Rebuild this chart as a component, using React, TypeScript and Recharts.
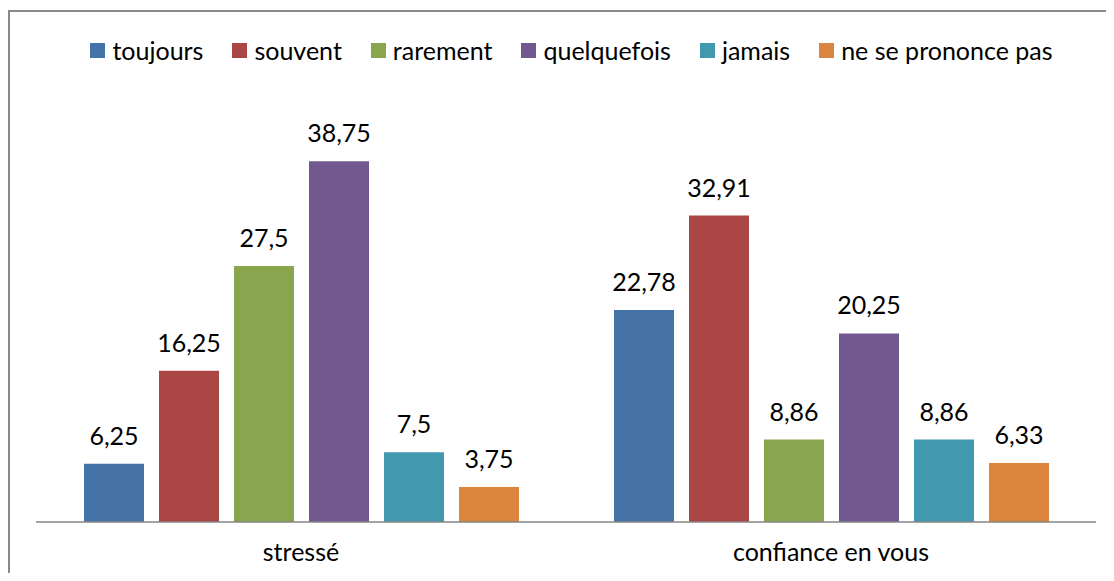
import React from 'react';
import { BarChart, Bar, XAxis, YAxis, Legend, LabelList } from 'recharts';

const categories = ['stressé', 'confiance en vous'];
const toujours = [6.25, 22.78];
const souvent = [16.25, 32.91];
const rarement = [27.5, 8.86];
const quelquefois = [38.75, 20.25];
const jamais = [7.5, 8.86];
const nePrononcePas = [3.75, 6.33];

const seriesNames = ['toujours', 'souvent', 'rarement', 'quelquefois', 'jamais', 'ne se prononce pas'];
const seriesValues = [toujours, souvent, rarement, quelquefois, jamais, nePrononcePas];
const colors = ['#4572A7', '#AA4643', '#89A54E', '#71588F', '#4198AF', '#DB843D'];

const data = categories.map((name, i) => {
  const row: Record<string, string | number> = { name };
  seriesNames.forEach((s, j) => {
    row[s] = seriesValues[j][i];
  });
  return row;
});

const FONT = 'Lato, "Open Sans", sans-serif';
const FS = 25;

const fmt = (v: any) => String(v).replace('.', ',');

const LegendRow = () => (
  <div style={{ display: 'flex', justifyContent: 'center', alignItems: 'center', height: 36, paddingLeft: 19, fontFamily: FONT, fontSize: FS, color: '#000' }}>
    {seriesNames.map((s, i) => (
      <div key={s} style={{ display: 'flex', alignItems: 'center', marginLeft: i === 0 ? 0 : 29 }}>
        <span style={{ width: 15, height: 15, background: colors[i], marginRight: 7, display: 'inline-block' }} />
        <span>{s}</span>
      </div>
    ))}
  </div>
);

export default function App() {
  return (
    <div style={{ marginTop: 2, width: 1104, height: 561, borderTop: '2px solid #898989', borderLeft: '2px solid #898989' }}>
      <BarChart
        width={1104}
        height={561}
        data={data}
        margin={{ top: 55, right: 18, bottom: 21, left: 26 }}
        barSize={60}
        barGap={15}
      >
        <Legend verticalAlign="top" content={<LegendRow />} wrapperStyle={{ top: 20, left: 0, width: 1104 }} />
        <XAxis
          dataKey="name"
          axisLine={{ stroke: '#868686', strokeWidth: 1.5 }}
          tickLine={false}
          tickSize={0}
          tickMargin={21}
          height={30}
          tick={{ fill: '#000', fontSize: FS, fontFamily: FONT }}
        />
        <YAxis hide domain={[0, 45]} />
        {seriesNames.map((s, i) => (
          <Bar key={s} dataKey={s} fill={colors[i]} isAnimationActive={false}>
            <LabelList
              dataKey={s}
              position="top"
              offset={19}
              formatter={fmt}
              style={{ fill: '#000', fontSize: FS, fontFamily: FONT }}
            />
          </Bar>
        ))}
      </BarChart>
    </div>
  );
}
